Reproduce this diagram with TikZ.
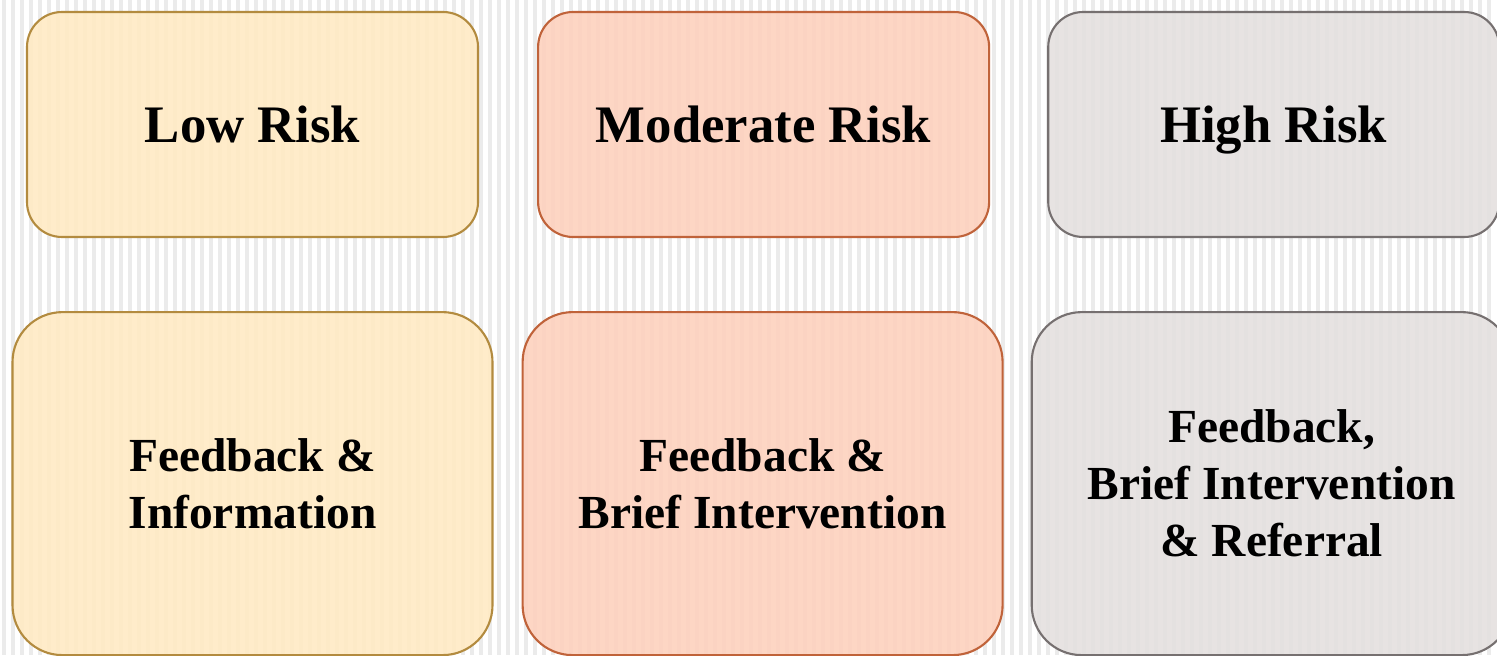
\documentclass[tikz,border=0pt]{standalone}
\usepackage{fontspec}
\setmainfont{Liberation Serif}
\usetikzlibrary{positioning}

\definecolor{lowfill}{HTML}{FFEAC4}
\definecolor{lowdraw}{HTML}{B38B3F}
\definecolor{modfill}{HTML}{FDD1BE}
\definecolor{moddraw}{HTML}{C0633A}
\definecolor{highfill}{HTML}{E4E0DF}
\definecolor{highdraw}{HTML}{767070}
\definecolor{stripe}{HTML}{EBEBEB}

\begin{document}
\begin{tikzpicture}[
    level/.style={draw, line width=1.2pt, rounded corners=0.7cm, minimum width=9.02cm, minimum height=4.5cm, text depth=0pt, font=\fontsize{30}{36}\selectfont\bfseries, fill opacity=0.9, text opacity=1},
    action/.style={draw, line width=1.2pt, rounded corners=1cm, minimum width=9.6cm, minimum height=6.86cm, align=center, font=\fontsize{27}{32.5}\selectfont\bfseries, fill opacity=0.9, text opacity=1},
    node distance=1.16cm and 1.16cm
]
\useasboundingbox (0,0) rectangle (29.94,13.1);
% pinstripe backdrop
\foreach \i in {0,...,165}
    \draw[stripe, line width=0.07cm] (0.18*\i+0.08,0) -- (0.18*\i+0.08,13.1);

\node[level, fill=lowfill, draw=lowdraw] (low) at (5.05,10.61) {Low Risk};
\node[level, fill=modfill, draw=moddraw, right=of low] (mod) {Moderate Risk};
\node[level, fill=highfill, draw=highdraw, right=1.14cm of mod] (high) {High Risk};

\node[action, fill=lowfill, draw=lowdraw, below=1.46cm of low] (lowact) {Feedback \&\\ Information};
\node[action, fill=modfill, draw=moddraw, right=0.56cm of lowact] (modact) {Feedback \&\\ Brief Intervention};
\node[action, fill=highfill, draw=highdraw, right=0.54cm of modact] (highact) {Feedback,\\ Brief Intervention\\ \& Referral};
\end{tikzpicture}
\end{document}
